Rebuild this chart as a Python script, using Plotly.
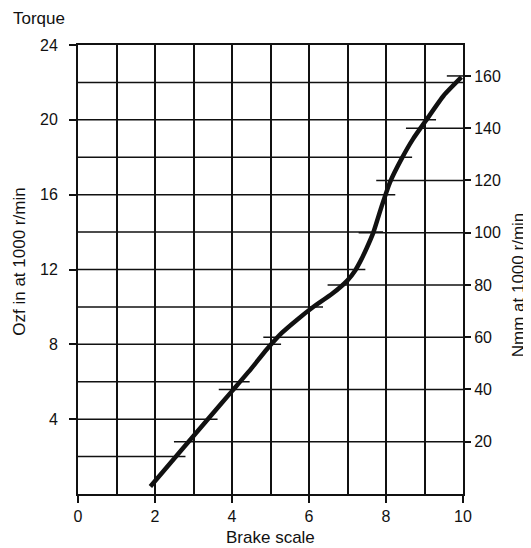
import numpy as np
import plotly.graph_objects as go

# ---- data ----
brake_scale = [1.88, 2.5, 3.0, 3.5, 4.0, 4.5, 4.9, 5.3, 5.7, 6.1, 6.6, 7.0, 7.2,
               7.35, 7.5, 7.67, 7.89, 8.1, 8.4, 8.7, 9.05, 9.5, 9.96]
torque_ozf_in = [0.4, 1.9, 3.1, 4.3, 5.5, 6.7, 7.72, 8.62, 9.33, 9.98, 10.7, 11.42, 11.95,
                 12.5, 13.15, 13.97, 15.4, 16.65, 17.9, 18.97, 20.0, 21.3, 22.28]
x_ticks = [0, 2, 4, 6, 8, 10]
left_ticks = [4, 8, 12, 16, 20, 24]
left_grid = [2, 4, 6, 8, 10, 12, 14, 16, 18, 20, 22]
right_ticks = [20, 40, 60, 80, 100, 120, 140, 160]
NMM_PER_OZF = 7.16  # scale ratio as drawn

FONT = "Liberation Sans, Arial, Helvetica, sans-serif"
INK = "#111111"

fig = go.Figure()
fig.add_trace(go.Scatter(
    x=brake_scale, y=torque_ozf_in, mode="lines",
    line=dict(color=INK, width=4.5, shape="spline", smoothing=0.5),
    showlegend=False, hoverinfo="skip"))

# invisible trace to activate right axis
fig.add_trace(go.Scatter(x=[None], y=[None], yaxis="y2", showlegend=False))

xs = np.array(brake_scale)
ys = np.array(torque_ozf_in)
shapes = []
# left-scale grid lines: from the left edge to just past the curve
for v in left_grid:
    xc = float(np.interp(v, ys, xs))
    x_end = 10 if v > ys.max() - 0.5 else min(xc + 0.25, 10)
    shapes.append(dict(type="line", xref="x", yref="y", x0=0, x1=x_end, y0=v, y1=v,
                       line=dict(color=INK, width=1.5), layer="below"))
# right-scale grid lines: from the right edge back to just before the curve
for v in right_ticks:
    xc = float(np.interp(v / NMM_PER_OZF, ys, xs))
    shapes.append(dict(type="line", xref="x", yref="y2", x0=xc - 0.38, x1=10, y0=v, y1=v,
                       line=dict(color=INK, width=1.5), layer="below"))

fig.update_layout(
    width=523, height=540,
    margin=dict(l=70, r=68, t=37, b=54),
    paper_bgcolor="white", plot_bgcolor="white",
    font=dict(family=FONT, size=16, color=INK),
    shapes=shapes,
    xaxis=dict(range=[0, 10], tickvals=x_ticks, ticks="outside", ticklen=7, tickwidth=1.5,
               tickcolor=INK, showline=True, linecolor=INK, linewidth=2, mirror=True,
               showgrid=True, gridcolor=INK, gridwidth=1.5, zeroline=False,
               minor=dict(dtick=1, tick0=0, showgrid=True, gridcolor=INK, gridwidth=1.5,
                          ticks=""),
               tickfont=dict(size=16)),
    yaxis=dict(range=[0, 24], tickvals=left_ticks, ticks="outside", ticklen=7, tickwidth=1.5,
               tickcolor=INK, showline=True, linecolor=INK, linewidth=2, mirror=True,
               showgrid=False, zeroline=False, tickfont=dict(size=16),
               ticklabelstandoff=8),
    yaxis2=dict(range=[0, 24 * NMM_PER_OZF], overlaying="y", side="right",
                tickvals=right_ticks, ticks="outside", ticklen=7, tickwidth=1.5,
                tickcolor=INK, showline=False, showgrid=False, zeroline=False,
                tickfont=dict(size=16)),
    annotations=[
        dict(text="Torque", xref="paper", yref="paper", x=-0.101, y=1.06,
             xanchor="center", yanchor="middle", showarrow=False, font=dict(size=17)),
        dict(text="Ozf in at 1000 r/min", xref="paper", yref="paper", x=-0.151, y=0.517,
             xanchor="center", yanchor="middle",
             textangle=-90, showarrow=False, font=dict(size=17)),
        dict(text="Nmm at 1000 r/min", xref="paper", yref="paper", x=1.143, y=0.465,
             xanchor="center", yanchor="middle",
             textangle=-90, showarrow=False, font=dict(size=17)),
        dict(text="Brake scale", xref="paper", yref="paper", x=0.5, y=-0.096,
             xanchor="center", yanchor="middle", showarrow=False, font=dict(size=17)),
    ],
)

fig.write_html("out.html")
